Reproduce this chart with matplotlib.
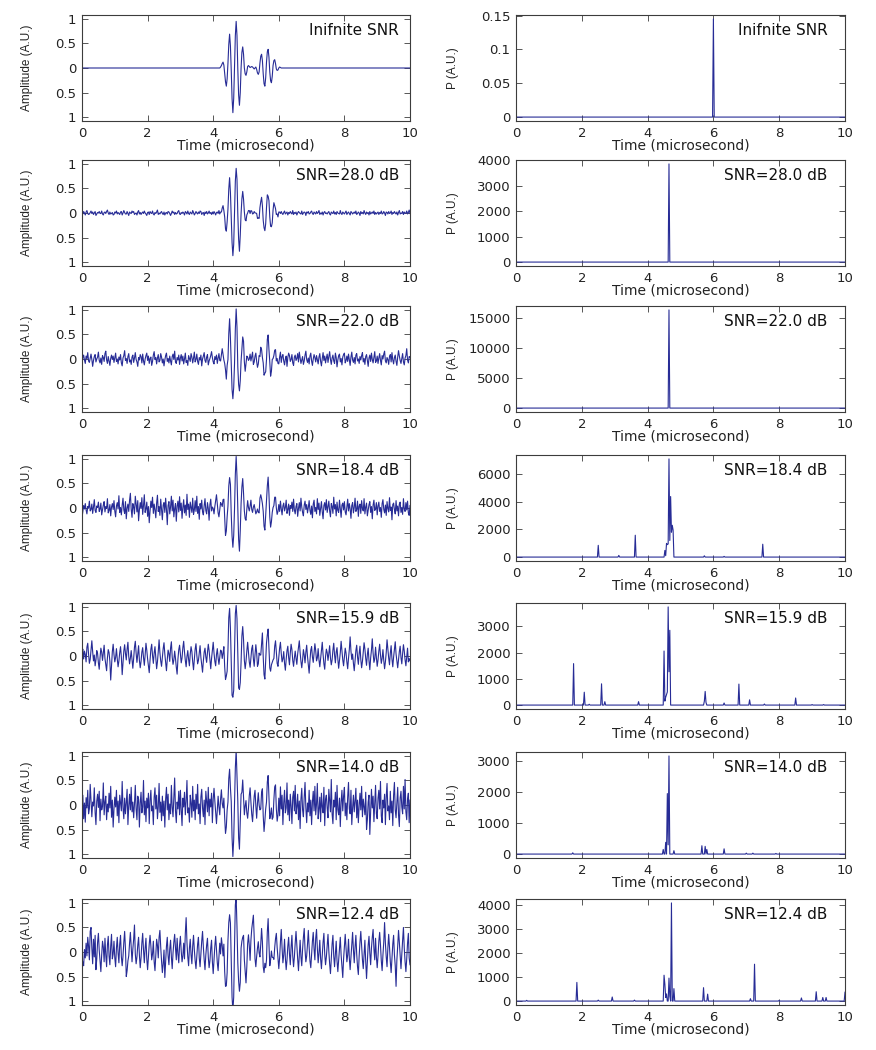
import numpy as np
import matplotlib
matplotlib.use('Agg')
import matplotlib.pyplot as plt
from matplotlib.ticker import FuncFormatter

# ---------------- data ----------------
n_samples = 401          # samples over 0..10 microseconds
t_max = 10.0
pulse_start_us = 4.2

# clean echo pulse (hundredths of A.U.), starting at pulse_start_us, step 0.025 us
pulse_clean = [0, 2, 5, 9, 12, 6, -10, -28, -37, -22, 10, 48, 69, 45, -5, -62, -91, -62, 2, 66,
               95, 66, -2, -55, -76, -50, 0, 32, 43, 28, 0, -12, -15, -8, 3, 5, 3, 1, 2, 3,
               2, 0, -2, 0, 2, -3, -10, -13, -8, 10, 24, 28, 15, -12, -32, -37, -20, 12, 33, 38,
               22, -8, -26, -30, -17, 5, 15, 17, 9, -2, -5, -4, 0, 2, 1, 0]

# additive noise (hundredths of A.U.)
noise_28db = [
    1, -2, 3, 0, -4, 2, 5, -1, -3, -2, 1, 4, -1, 2, -3, 0, 3, -5, -2, 1,
    0, 3, -1, -1, 4, -2, -4, 1, 2, -1, 3, 6, 0, -3, 2, -2, -1, 1, -4, -3,
    2, 0, 4, -2, 1, -1, -3, 2, 3, -4, 0, 5, 1, -2, -2, 3, -1, -5, 2, 0,
    -1, 4, 1, 3, -3, -1, 0, -4, 2, 5, -2, 1, -3, 0, 2, -1, 4, 0, -2, -5,
    1, 2, -3, 3, 0, -1, 4, -2, -4, 1, -1, 2, 6, -3, 0, -2, 1, 3, -1, -3,
    2, -4, 0, 1, -2, 3, 2, -1, -5, -1, 4, 0, 2, -3, 1, -2, -1, 3, 5, -2,
    -3, 1, -1, 2, 0, -4, 3, 1, -2, 4, -1, -3, 2, 0, -2, 5, 1, -4, -1, 3,
    0, -2, 2, -1, 4, 3, -3, 0, 1, -5, 2, -1, 3, -2, 0, 4, -1, 1, -3, 2,
    -2, 3, 0, -4, 1, 2, -1, 5, -2, 0, -3, 1, 3, -1, 2, -4, 0, 4, -2, 1,
    3, -3, -1, 2, 4, -2, 1, -1, -4, 3, 0, 2, -2, 5, -1, -3, 1, 0, 2, -2,
    -1, 4, -3, 0, 2, -2, 3, 1, -4, -1, 5, 0, -2, 2, -1, 3, -3, 1, -1, 4,
    0, -3, 2, 1, -2, -1, 4, -4, 3, 0, -1, 2, -3, 1, 6, -2, 0, -1, 3, -4,
    2, 0, -2, 3, -1, -3, 1, 4, -2, 0, 2, -4, 1, -1, 3, 0, -2, 5, -3, 1,
    -1, 2, -4, 0, 3, 1, -1, -2, 4, -3, 0, 2, 1, -5, 2, 0, 3, -2, -1, 2,
    4, -1, -3, 2, 0, -2, 3, -1, 1, 5, -3, 0, -2, 2, -4, 1, 3, -1, 0, -2,
    1, 3, -2, -4, 2, 0, -1, 4, -2, 1, -3, 3, 0, -1, -2, 5, -1, -3, 2, 0,
    -2, 1, 4, -3, 0, 2, -1, -4, 3, 1, -2, 0, 2, -1, 4, -3, -1, 2, 0, -5,
    3, -1, 1, -2, 5, 0, -3, 2, -1, 1, -4, 3, -2, 0, 2, -1, 4, -3, 1, -2,
    0, 2, -3, 1, -1, 4, -2, -1, 3, 0, -5, 2, 1, -2, 3, -1, 0, 4, -3, 1,
    -1, 3, 0, -2, 2, -4, 1, 5, -2, 0, -1, 3, -3, 2, -1, 0, 4, -2, 1, 6,
    -1]

noise_22db = [
    -12, 3, 8, -2, -9, 6, 1, 13, -4, -7, 2, 10, -1, -15, -3, 5, 9, -6, 0, 4,
    14, -3, -8, 2, -11, 7, 3, -5, 11, 16, -2, -9, 5, -4, -13, 1, 8, -1, 6, -7,
    3, 12, -5, 0, -10, 4, -2, 9, -8, -14, 2, 7, 17, -3, 1, -9, 5, 11, -6, -2,
    -11, 4, 8, -7, 2, 13, -1, -6, -15, 3, -2, 9, 5, -8, 10, -4, -12, 0, 7, 12,
    -3, 6, -9, 1, 4, -13, -5, 8, 15, -1, 3, -10, 2, 9, -6, -3, 11, 4, -8, 0,
    -14, -2, 7, 12, -5, 1, -8, 6, -4, -12, 5, 10, -1, 16, -6, -9, 3, -2, 8, -11,
    2, 9, -4, 6, -10, 0, 12, -7, -3, -13, 7, 1, -5, 11, 4, -8, 2, 14, -6, -1,
    10, -5, -11, 3, -2, 8, -14, 0, 6, 13, -3, -7, 4, 9, -12, -4, 1, 7, 15, 3,
    -6, -10, 5, -1, 8, -9, 2, 11, -3, -6, 4, 12, -2, -8, 1, 6, -4, 9, -11, 4,
    13, -2, -7, 0, 10, 4, -12, -5, 7, -1, -14, 3, 11, 6, -4, -10, 2, 8, -6, -13,
    5, 14, 1, -8, -3, 9, -6, 2, 12, -11, -4, 6, 10, -2, -7, 3, 15, -5, 0, -9,
    -12, 4, -1, 8, -6, -13, 7, 11, -3, 2, -9, 5, 16, -4, -8, 1, 10, -2, 6, -5,
    -10, 2, 13, -7, 5, 9, -4, -12, 0, 6, -15, 3, 12, 7, -5, -1, 9, -8, -13, 4,
    8, -3, 1, 11, -6, 14, 3, -9, -2, 5, -11, -4, 8, 16, -1, -7, 2, -10, 6, 12,
    -4, -13, 0, 9, 3, -6, 7, -2, -10, 4, 11, -5, -14, 1, 13, -3, 6, -8, 2, 10,
    -7, 5, 15, -1, -11, 2, 8, -4, -9, 12, 3, -16, -2, 7, 10, -6, 1, -12, 4, 9,
    12, -8, -3, 6, -5, 10, -1, -13, 4, 14, -2, -7, 3, -10, 8, 11, -4, 0, -9, 5,
    -2, 7, 13, -6, 1, -11, 5, 9, -3, -15, 2, 8, -5, 12, -1, -8, 4, 15, -7, -4,
    6, -9, 2, 11, -3, -12, 7, 0, 10, 16, -4, -8, 3, -1, -11, 5, 9, -6, 13, -2,
    -10, 3, 8, -5, -13, 4, 17, 6, -3, -9, 1, 11, -6, -12, 2, 7, 21, -2, -8, 5,
    3]

noise_18db = [
    -20, -8, 5, -2, 9, -4, -12, 3, 0, 14, -6, -3, 8, -11, 2, 17, -5, -9, 4, 1,
    12, -7, -2, 10, -14, -4, 6, 13, -8, 3, -1, 19, -10, -5, 7, -16, 2, 9, -3, 15,
    -6, -18, 4, 11, -2, 25, -9, 1, -14, 6, 20, -4, -11, 13, -22, 0, 8, -7, 16, 30,
    -3, -19, 9, 2, -12, 24, 7, -8, 15, -26, -4, 11, -1, 21, -13, 5, 27, -9, -2, 12,
    -17, 3, -30, -6, 14, 1, 22, -11, 8, -4, -20, 10, 26, -7, 3, -15, 18, -2, -24, 6,
    11, -9, 20, -3, -34, 5, 13, -12, 2, 24, -6, 16, -18, -1, 9, -27, 4, 14, -8, 23,
    -5, 10, -21, 1, 17, -10, 6, -15, 28, -3, 8, -19, 12, 2, -9, 20, -13, -4, 15, -7,
    24, -11, 3, -23, 9, -2, 16, -8, -14, 5, 19, -5, -12, 11, -1, -25, 7, 18, -6, 2,
    -1, -12, 3, 15, 27, 8, -10, -18, -4, 9, 3, -6, 5, 12, -8, -28, -10, 4, -6, -3,
    -7, 3, -8, 5, 11, 6, -4, 3, 10, -2, 6, -9, -12, 4, 9, 11, 17, 2, -6, -10,
    -10, 5, 12, -4, -9, 3, 14, -6, -11, 2, 9, -3, -14, -5, 8, 4, -2, 10, 3, -9,
    -6, 5, -5, -8, 4, -2, 12, 25, 6, -10, -13, 2, 8, -4, -10, 5, 13, 2, -8, -3,
    7, -9, 13, -2, -14, 4, 10, -6, 1, 16, -11, -3, 8, -15, 5, -1, 12, -7, 18, -4,
    -12, 3, 9, -17, -1, 11, -6, 20, 2, -9, -16, 6, 14, -3, 7, -10, 1, 15, -5, -13,
    4, -20, 8, 16, -7, 1, -12, 19, -3, 10, -15, -1, 13, -8, -22, 5, 11, -4, 17, -9,
    2, 14, -6, -18, 9, 3, -11, 22, -2, 7, -16, 12, -5, -9, 16, -1, -19, 6, 10, -4,
    13, -8, -14, 3, 18, -6, 9, -2, -21, 5, 11, -10, 1, 20, -7, -3, 14, -17, 4, 8,
    -11, 15, -1, -6, 19, -12, 2, 10, -16, -4, 7, 13, -9, 3, -22, 6, 16, -5, -2, 11,
    -14, 4, 12, -7, 1, -19, 9, 17, -3, -10, 6, -15, 13, -1, -8, 21, -5, 2, -24, 7,
    10, -3, -12, 15, -6, 4, -16, 8, 12, -9, 1, -13, 19, -2, -7, 11, -4, 14, -10, -15,
    5]

noise_16db = [
    8, 14, -6, 10, 3, -12, 18, 26, 4, -15, -7, 12, 31, 9, -10, 2, -20, -8, 11, 5,
    -14, -27, -3, 16, 8, -9, 6, 22, -5, -18, -30, -4, 13, 7, -11, -49, -19, 9, 24, 3,
    -12, -3, 15, -6, -22, -10, 7, 19, -2, -38, -14, 10, 23, 5, -8, 14, 28, -1, -16, -4,
    11, -7, -25, -5, 18, 30, 6, -13, 3, 21, -9, -24, -11, 8, 17, -3, -19, 2, 26, 12,
    -6, -20, -34, -8, 14, 24, 1, -15, 6, 19, -4, -26, -12, 9, 33, 7, -10, -21, -3, 15,
    27, 4, -13, -30, -7, 12, 5, -11, 16, 29, -2, -17, -8, 10, -5, -23, -37, -6, 13, 22,
    3, -14, -4, 17, 30, 8, -9, -22, -1, 11, -7, -20, 4, 19, 9, -12, -28, -6, 14, 25,
    2, -16, -9, 6, 21, -3, -18, -33, -10, 8, 16, -2, -13, 7, 24, 11, -8, -26, -5, 12,
    28, 6, -11, -20, 3, 15, -4, -17, -3, 10, 5, -14, -6, 13, -12, -20, -4, -9, 2, 30,
    28, 12, -6, -18, 7, -8, 5, 20, 8, 10, 6, -10, 8, -4, -12, 9, 17, 5, -9, -14,
    4, 18, 25, 2, -15, -24, -5, 12, 20, -6, -19, 3, 21, 9, -11, -3, 14, -8, -22, -2,
    32, 10, -6, -10, 8, 15, 10, 17, -4, -16, -5, 12, 4, -13, -20, 3, 22, 9, -10, -17,
    -2, 14, 27, 5, -12, -6, 9, -15, -29, -7, 11, 20, -3, -18, 6, 24, 13, -9, -21, -4,
    10, -5, -17, 4, 18, 31, 7, -11, -24, -8, 13, 2, -14, 8, 22, -1, -19, -35, -9, 12,
    19, -2, -13, 6, 25, 11, -10, -4, 15, -8, -22, -6, 9, 28, 3, -16, -27, -1, 14, 7,
    -9, 5, 21, -4, -18, -8, 12, 26, 2, -14, 8, 17, -6, -25, -10, 7, 30, 11, -8, -20,
    -3, 16, 6, -12, -26, -5, 13, 39, 10, -7, 4, -15, -30, -9, 11, 22, -2, -17, 5, 20,
    -7, -24, -11, 8, 27, 14, -5, -19, 3, 16, -10, -28, -4, 12, 35, 6, -13, -6, 18, -3,
    -21, -8, 10, 24, 2, -15, -5, 13, -9, -26, -12, 7, 33, 15, -4, -18, 6, 21, -6, -22,
    -2, 14, 29, 4, -11, -24, -7, 9, 20, -3, -16, 5, 23, 10, -8, -20, -1, 16, -12, -5,
    -10]

noise_14db = [
    -12, 20, -28, 4, -35, 15, -6, 30, -18, -8, 42, 10, -24, 6, -2, 35, -15, -40, 8, 22,
    -5, 28, -32, 12, -10, -3, 45, -20, 6, 18, -30, 2, -14, 24, -6, 38, -25, 10, -45, -8,
    16, -4, 30, -22, 8, -36, 20, 3, -12, 48, -6, -28, 14, -18, 5, 32, -40, -2, 22, -10,
    36, -14, 6, -26, 2, 40, -8, -30, 18, 12, -45, 4, 26, -16, -4, 50, -20, 8, -34, 14,
    -6, 24, -38, 10, 30, -12, -2, -40, 16, 35, -8, 20, -28, -4, 44, -15, 6, -32, 18, -22,
    8, -45, 12, 36, -10, 22, -30, 2, -18, 40, -4, -24, 15, 55, -12, -36, 6, -8, 28, -20,
    30, -10, -42, 14, -4, 26, -20, 8, 50, -16, -6, -35, 20, 4, -25, 38, -12, 10, -30, 22,
    -8, 42, -18, 2, -38, 16, 32, -6, -24, 10, -40, 28, 6, -14, 36, -22, 12, -4, 24, -36,
    12, 34, 8, -14, -38, -10, 18, -4, -20, 10, 26, -6, -18, 8, -16, -30, -8, 12, -4, 6,
    4, -10, 12, -4, -14, -8, 6, 10, 17, -6, 10, -12, -14, 16, 22, -6, 8, -12, -20, 10,
    24, -8, -30, -12, 16, 34, 4, -22, -36, -6, 20, 30, -4, -24, 14, 38, 8, -20, -32, -2,
    18, -10, -22, 4, 12, -6, 14, 22, -8, -20, 6, 24, -12, -30, -4, 20, 32, -6, -28, -16,
    14, -24, 36, -8, 20, -40, 4, 30, -16, -6, 45, -20, 10, -32, 22, -2, -38, 16, 28, -12,
    40, -18, -4, 22, -30, 8, -48, 12, 34, -10, -24, 16, 46, -6, -36, 4, -14, 30, -22, 10,
    -40, 6, 28, -12, 38, -20, 2, 44, -28, -8, 16, -34, 24, -4, -16, 36, -42, 12, 20, -6,
    -26, 32, 8, -14, 52, -18, -38, 10, -4, 26, -30, 40, -10, -20, 14, -44, 6, 30, -12, 18,
    36, -22, 4, -30, 16, 46, -8, -18, 30, -40, -6, 20, -14, 8, 34, -26, 10, -36, -2, 24,
    -10, 38, -24, 12, -4, -20, 26, -50, -30, 6, 20, -60, -14, 32, -6, 18, -34, 4, 40, -18,
    -28, 14, 30, -8, 48, -22, -36, 10, -6, 22, -40, 16, 44, -12, -2, -30, 28, -16, 8, -42,
    20, 46, -10, -26, 6, 36, -20, -44, 14, 28, -4, -18, 38, -8, 52, -14, -30, 12, 24, -36,
    10]

noise_12db = [
    -33, -20, -28, 5, -12, 18, -8, 30, 12, -16, 42, 50, 8, -24, 26, -10, 34, -36, -14, 20,
    38, 4, -18, -40, -6, 22, 10, -20, 28, -6, -30, 14, 32, -8, -26, 12, 36, -14, -4, 22,
    -12, -30, 8, 30, -2, -22, 16, 34, -10, -28, -8, 20, 42, 6, -50, -38, -18, -8, 18, 40,
    10, -20, 6, 26, 55, -4, -24, -10, 14, 30, -6, -32, -12, 18, 38, 4, -22, 8, 28, -14,
    -36, -10, 16, 34, 12, -16, -4, 22, -20, -38, -6, 26, 14, -12, 30, 44, 10, -18, -42, -24,
    4, -52, -20, 12, 30, -8, -26, 6, 24, -10, -34, -2, 20, 36, 8, -16, 28, -4, -22, 14,
    32, 2, -20, -8, 18, -14, 38, 70, 20, -10, -28, 8, 26, -6, -24, 12, 34, 4, -18, -34,
    -8, 16, 30, -12, -30, -4, 22, 42, 10, -16, -36, -6, 14, 28, -10, -32, -18, 8, 24, -20,
    -44, -14, 12, 32, 6, -22, -38, -8, 18, -6, 24, 4, -20, 10, -30, -42, -32, -20, 14, 12,
    7, 14, -10, -30, -29, -30, 10, 30, 17, -14, -20, -4, -4, -12, 8, -10, -13, 6, -16, -28,
    -48, -22, 14, 30, 10, -18, 22, 44, 60, 75, 30, -14, -32, -6, 18, 34, 6, -20, -8, 20,
    6, -18, -10, 14, -12, -28, 8, 30, -6, -20, 10, 32, 6, -16, -30, -8, 18, 40, 14, -10,
    -34, -14, 20, 46, 8, -22, -6, 26, -12, -36, -16, 12, 30, -4, -26, 10, 34, -8, -30, -10,
    18, 42, 12, -14, -38, -6, 24, -10, -28, 6, 30, 48, 4, -20, -8, 16, 44, 10, -18, -32,
    -4, 22, 40, 6, -16, 28, 46, 8, -22, -2, 24, -14, -34, -6, 20, 38, -4, -26, -10, 14,
    36, 2, -24, -44, -12, 16, 34, -8, -30, -4, 22, -18, -40, -16, 10, 30, -6, -28, -52, -14,
    12, 36, 8, -20, -6, 26, -12, -36, -10, 16, 40, 4, -22, 10, 34, -4, -30, -46, -8, 20,
    42, 12, -16, -34, -4, 24, -20, -54, -18, 14, 32, -2, -26, 8, 30, 46, 6, -16, 28, -10,
    -32, -8, 22, 40, 14, -18, -38, -6, 20, 60, 18, -10, -30, 8, 36, 10, -20, -42, -12, 16,
    34, -6, -28, -70, -16, 12, 44, 20, -8, -34, -4, 24, 50, 8, -20, -40, -14, 18, 38, -12,
    -26]

snr_labels = ['Inifnite SNR', 'SNR=28.0 dB', 'SNR=22.0 dB', 'SNR=18.4 dB',
              'SNR=15.9 dB', 'SNR=14.0 dB', 'SNR=12.4 dB']

# reconstructed P(t): peak times (microsecond) and heights (A.U.), zero elsewhere
spec_inf_t = [6.0]
spec_inf_v = [0.145]
spec_28_t = [4.65]
spec_28_v = [3850]
spec_22_t = [4.65]
spec_22_v = [16400]
spec_18_t = [2.5, 3.125, 3.625, 4.525, 4.55, 4.575, 4.6, 4.625, 4.65, 4.675, 4.7, 4.725,
             4.75, 4.775, 5.725, 6.325, 7.5]
spec_18_v = [850, 120, 1580, 480, 100, 990, 900, 950, 7100, 1200, 4380, 1800,
             2300, 1950, 90, 50, 930]
spec_16_t = [1.75, 2.075, 2.225, 2.6, 2.7, 3.725, 4.5, 4.525, 4.55, 4.575, 4.6, 4.625,
             4.65, 4.675, 5.725, 5.75, 5.775, 6.325, 6.775, 7.1, 7.55, 8.5, 9.0, 9.35]
spec_16_v = [1580, 490, 30, 810, 130, 130, 2060, 150, 300, 400, 500, 3740,
             1270, 2850, 150, 520, 100, 80, 800, 200, 40, 270, 20, 20]
spec_14_t = [1.725, 4.475, 4.55, 4.6, 4.625, 4.65, 4.8, 5.65, 5.75, 5.8, 6.325, 7.0, 7.2, 7.9]
spec_14_v = [40, 150, 380, 1960, 300, 3180, 110, 270, 250, 150, 170, 30, 30, 20]
spec_12_t = [0.325, 1.85, 2.5, 2.925, 3.6, 4.5, 4.525, 4.55, 4.575, 4.65, 4.675, 4.725,
             4.8, 5.7, 5.825, 7.125, 7.25, 8.0, 8.675, 9.125, 9.325, 9.425, 10.0]
spec_12_v = [30, 780, 40, 170, 40, 1080, 700, 150, 300, 960, 200, 4100,
             520, 560, 290, 100, 1540, 30, 130, 390, 150, 150, 370]

# ---------------- build series ----------------
noises = [noise_28db, noise_22db, noise_18db, noise_16db, noise_14db, noise_12db]
for nz in noises:
    assert len(nz) == n_samples, len(nz)

t = np.linspace(0, t_max, n_samples)
dt = t[1] - t[0]
clean = np.zeros(n_samples)
i0 = int(round(pulse_start_us / dt))
clean[i0:i0 + len(pulse_clean)] = np.array(pulse_clean) / 100.0
amps = [clean] + [clean + np.array(nz) / 100.0 for nz in noises]

spec_sets = [(spec_inf_t, spec_inf_v), (spec_28_t, spec_28_v), (spec_22_t, spec_22_v),
             (spec_18_t, spec_18_v), (spec_16_t, spec_16_v), (spec_14_t, spec_14_v),
             (spec_12_t, spec_12_v)]
specs = []
for ts, vs in spec_sets:
    p = np.zeros(n_samples)
    for tt, vv in zip(ts, vs):
        p[int(round(tt / dt))] = vv
    specs.append(p)

right_ticks = [[0, 0.05, 0.1, 0.15], [0, 1000, 2000, 3000, 4000], [0, 5000, 10000, 15000],
               [0, 2000, 4000, 6000], [0, 1000, 2000, 3000], [0, 1000, 2000, 3000],
               [0, 1000, 2000, 3000, 4000]]

# ---------------- figure ----------------
W, H = 876, 1050
fig = plt.figure(figsize=(W / 100, H / 100), dpi=100)
line_color = '#272c96'
spine_color = '#3c3c3c'
tops = [15, 160, 306, 455, 603, 752, 899]
ax_h = 106
left_x, left_w = 82, 328
right_x, right_w = 516, 329

gfmt = FuncFormatter(lambda v, pos: '%g' % v)


def style(ax):
    for s in ax.spines.values():
        s.set_color(spine_color)
        s.set_linewidth(0.8)
    ax.tick_params(direction='in', top=True, right=True, length=4, width=0.6,
                   color=spine_color, labelsize=9.5, pad=4, labelcolor='#222222')
    ax.set_xlim(0, 10)
    ax.set_xticks([0, 2, 4, 6, 8, 10])
    ax.set_xlabel('Time (microsecond)', fontsize=10, color='#222222')
    ax.xaxis.set_label_coords(0.5, -0.165)


for r in range(7):
    top = tops[r]
    y0 = 1 - (top + ax_h) / H
    axl = fig.add_axes([left_x / W, y0, left_w / W, ax_h / H])
    axr = fig.add_axes([right_x / W, y0, right_w / W, ax_h / H])

    axl.plot(t, amps[r], color=line_color, lw=0.8)
    style(axl)
    axl.set_ylim(-1.08, 1.08)
    axl.set_yticks([-1, -0.5, 0, 0.5, 1])
    axl.set_yticklabels(['1', '0.5', '0', '0.5', '1'])
    axl.set_ylabel('Amplitude (A.U.)', fontsize=8.5, family='Liberation Sans', color='#222222')
    axl.yaxis.set_label_coords(-0.148, 0.5)
    axl.text(0.967, 0.85, snr_labels[r], transform=axl.transAxes, ha='right', va='center',
             fontsize=11, color='#111111')

    p = specs[r]
    axr.plot(t, p, color=line_color, lw=0.8)
    style(axr)
    pmax = p.max()
    axr.set_ylim(-0.04 * pmax, 1.04 * pmax)
    axr.set_yticks(right_ticks[r])
    axr.yaxis.set_major_formatter(gfmt)
    axr.set_ylabel('P (A.U.)', fontsize=8.5, family='Liberation Sans', color='#222222')
    axr.yaxis.set_label_coords(-0.172, 0.5)
    axr.text(0.947, 0.85, snr_labels[r], transform=axr.transAxes, ha='right', va='center',
             fontsize=11, color='#111111')

fig.savefig('out.png', dpi=100)
